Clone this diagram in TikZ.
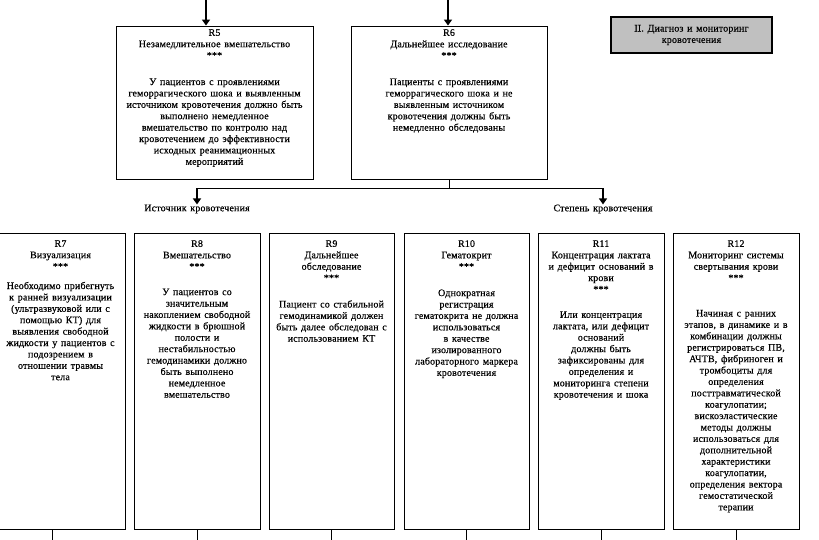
\documentclass[tikz,border=0pt]{standalone}
\usepackage{fontspec}
\setmainfont{Liberation Serif}[LetterSpace=1.5,FakeBold=0.4,WordSpace=1.4]
\usetikzlibrary{arrows.meta,positioning}
\definecolor{titlegray}{HTML}{C0C0C0}

\begin{document}
\begin{tikzpicture}[x=1pt,y=-1pt,
  box/.style={draw,line width=0.9pt,inner sep=0pt,minimum height=296pt},
  topbox/.style={draw,line width=0.9pt,inner sep=0pt,minimum height=153pt},
  txt/.style={align=center,inner sep=0pt,font=\fontsize{10}{11.4}\selectfont},
  link/.style={line width=1pt},
  feed/.style={line width=2.6pt,-{Triangle[length=6pt,width=8pt]}}]
  \useasboundingbox (0,0) rectangle (819,539);

  % upper row
  \node[topbox,minimum width=197pt] (r5) at (214.5,102.5) {};
  \node[topbox,minimum width=196pt] (r6) at (449,102.5) {};
  \node[txt,below=3.5pt of r5.north] (r5txt) {R5\\Незамедлительное вмешательство\\***\\[15pt]
    У пациентов с проявлениями\\геморрагического шока и выявленным\\источником кровотечения должно быть\\
    выполнено немедленное\\вмешательство по контролю над\\кровотечением до эффективности\\
    исходных реанимационных\\мероприятий};
  \node[txt,below=3.5pt of r6.north] (r6txt) {R6\\Дальнейшее исследование\\***\\[15pt]
    Пациенты с проявлениями\\геморрагического шока и не\\выявленным источником\\
    кровотечения должны быть\\немедленно обследованы};

  \node[draw,line width=1.2pt,fill=titlegray,minimum width=161pt,minimum height=36pt,
    txt] (title) at (691.5,35) {II. Диагноз и мониторинг\\кровотечения};

  % incoming arrows
  \coordinate (in5) at (206,-2);
  \coordinate (in6) at (448,-2);
  \draw[feed] (in5) -- (in5 |- r5.north);
  \draw[feed] (in6) -- (in6 |- r6.north);

  % branching
  \coordinate (split) at (449,188);
  \coordinate (brl) at (197,188);
  \coordinate (brr) at (603,188);
  \node[txt] (source) at (197,209) {Источник кровотечения};
  \node[txt] (degree) at (603,209) {Степень кровотечения};
  \draw[link] (r6.south) -- (split);
  \draw[link] (brl) -- (brr);
  \draw[feed] (brl) -- (source.north);
  \draw[feed] (brr) -- (degree.north);

  % lower row
  \node[box,minimum width=145pt] (r7) at (52.5,381) {};
  \node[box,minimum width=126pt] (r8) at (197,381) {};
  \node[box,minimum width=125pt] (r9) at (331.5,381) {};
  \node[box,minimum width=125pt] (r10) at (466.5,381) {};
  \node[box,minimum width=126pt] (r11) at (601,381) {};
  \node[box,minimum width=126pt] (r12) at (736,381) {};

  \node[txt,below=7.5pt of r7.north,xshift=8pt] (r7txt) {R7\\Визуализация\\***\\[8pt]
    Необходимо прибегнуть\\к ранней визуализации\\(ультразвуковой или с\\помощью КТ) для\\
    выявления свободной\\жидкости у пациентов с\\подозрением в\\отношении травмы\\тела};
  \node[txt,below=7.5pt of r8.north] (r8txt) {R8\\Вмешательство\\***\\[14pt]
    У пациентов со\\значительным\\накоплением свободной\\жидкости в брюшной\\полости и\\
    нестабильностью\\гемодинамики должно\\быть выполнено\\немедленное\\вмешательство};
  \node[txt,below=7.5pt of r9.north] (r9txt) {R9\\Дальнейшее\\обследование\\***\\[15pt]
    Пациент со стабильной\\гемодинамикой должен\\быть далее обследован с\\использованием КТ};
  \node[txt,below=7.5pt of r10.north] (r10txt) {R10\\Гематокрит\\***\\[15pt]
    Однократная\\регистрация\\гематокрита не должна\\использоваться\\в качестве\\
    изолированного\\лабораторного маркера\\кровотечения};
  \node[txt,below=7.5pt of r11.north] (r11txt) {R11\\Концентрация лактата\\и дефицит оснований в\\крови\\***\\[14pt]
    Или концентрация\\лактата, или дефицит\\оснований\\должны быть\\зафиксированы для\\
    определения и\\мониторинга степени\\кровотечения и шока};
  \node[txt,below=7.5pt of r12.north] (r12txt) {R12\\Мониторинг системы\\свертывания крови\\***\\[24pt]
    Начиная с ранних\\этапов, в динамике и в\\комбинации должны\\регистрироваться ПВ,\\
    АЧТВ, фибриноген и\\тромбоциты для\\определения\\посттравматической\\коагулопатии;\\
    вискоэластические\\методы должны\\использоваться для\\дополнительной\\характеристики\\
    коагулопатии,\\определения вектора\\гемостатической\\терапии};

  % outgoing stubs
  \coordinate (bottom) at (0,545);
  \foreach \n in {r7,r8,r9,r10,r11,r12}
    \draw[link] (\n.south) -- (\n.south |- bottom);
\end{tikzpicture}
\end{document}
